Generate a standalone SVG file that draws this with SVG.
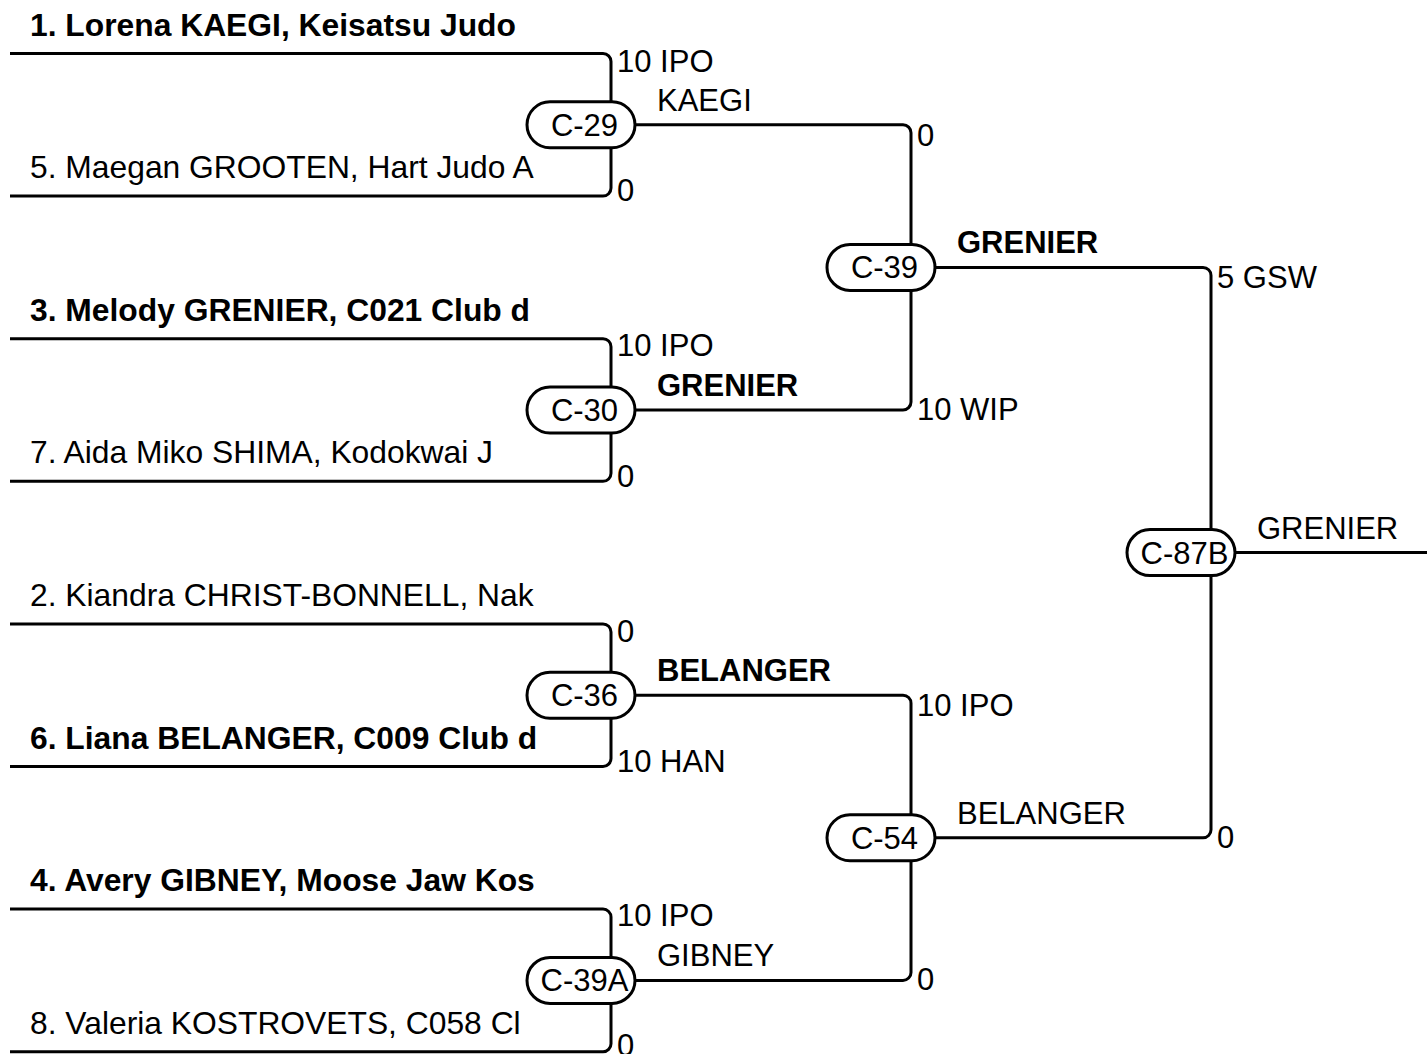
<svg xmlns="http://www.w3.org/2000/svg" width="1427" height="1054" viewBox="0 0 1427 1054">
<style>
text{font-family:"Liberation Sans",Arial,sans-serif;font-size:31px;fill:#000}
.b{font-weight:bold}
.nm{font-size:31.8px}
.nd{text-anchor:middle}
.c{fill:none;stroke:#000;stroke-width:3}
.pill{fill:#fff;stroke:#000;stroke-width:3}
</style>
<g id="connectors">
<path class="c" d="M10,53.5H603A8,8 0 0 1 611,61.5V101.8"/>
<path class="c" d="M10,196.1H603A8,8 0 0 0 611,188.1V147.8"/>
<path class="c" d="M10,338.7H603A8,8 0 0 1 611,346.7V387"/>
<path class="c" d="M10,481.3H603A8,8 0 0 0 611,473.3V433"/>
<path class="c" d="M10,623.9H603A8,8 0 0 1 611,631.9V672.2"/>
<path class="c" d="M10,766.5H603A8,8 0 0 0 611,758.5V718.2"/>
<path class="c" d="M10,909.1H603A8,8 0 0 1 611,917.1V957.4"/>
<path class="c" d="M10,1051.7H603A8,8 0 0 0 611,1043.7V1003.4"/>
<path class="c" d="M635,124.8H903A8,8 0 0 1 911,132.8V244.4"/>
<path class="c" d="M635,410H903A8,8 0 0 0 911,402V290.4"/>
<path class="c" d="M635,695.2H903A8,8 0 0 1 911,703.2V814.8"/>
<path class="c" d="M635,980.4H903A8,8 0 0 0 911,972.4V860.8"/>
<path class="c" d="M935,267.4H1203A8,8 0 0 1 1211,275.4V529.6"/>
<path class="c" d="M935,837.8H1203A8,8 0 0 0 1211,829.8V575.6"/>
<path class="c" d="M1235,552.6H1427"/>
</g>
<g id="entrants">
<text class="b nm" x="30" y="35.5">1. Lorena KAEGI, Keisatsu Judo</text>
<text class="nm" x="30" y="178">5. Maegan GROOTEN, Hart Judo A</text>
<text class="b nm" x="30" y="320.7">3. Melody GRENIER, C021 Club d</text>
<text class="nm" x="30" y="463.3">7. Aida Miko SHIMA, Kodokwai J</text>
<text class="nm" x="30" y="606">2. Kiandra CHRIST-BONNELL, Nak</text>
<text class="b nm" x="30" y="748.5">6. Liana BELANGER, C009 Club d</text>
<text class="b nm" x="30" y="891">4. Avery GIBNEY, Moose Jaw Kos</text>
<text class="nm" x="30" y="1033.7">8. Valeria KOSTROVETS, C058 Cl</text>
</g>
<g id="scores">
<text x="617" y="72">10 IPO</text>
<text x="617" y="201">0</text>
<text x="617" y="356">10 IPO</text>
<text x="617" y="486.5">0</text>
<text x="617" y="642">0</text>
<text x="617" y="771.5">10 HAN</text>
<text x="617" y="926">10 IPO</text>
<text x="617" y="1056">0</text>
<text x="917" y="146">0</text>
<text x="917" y="420">10 WIP</text>
<text x="917" y="716">10 IPO</text>
<text x="917" y="990">0</text>
<text x="1217" y="288.4">5 GSW</text>
<text x="1217" y="848">0</text>
</g>
<g id="winners">
<text x="657" y="110.8">KAEGI</text>
<text class="b" x="657" y="396">GRENIER</text>
<text class="b" x="657" y="681">BELANGER</text>
<text x="657" y="966">GIBNEY</text>
<text class="b" x="957" y="253.4">GRENIER</text>
<text x="957" y="824">BELANGER</text>
<text x="1257" y="538.6">GRENIER</text>
</g>
<g id="node-C-29"><rect class="pill" x="527" y="101.8" width="108" height="46" rx="23"/><text class="nd" x="584.5" y="135.8">C-29</text></g>
<g id="node-C-30"><rect class="pill" x="527" y="387" width="108" height="46" rx="23"/><text class="nd" x="584.5" y="421">C-30</text></g>
<g id="node-C-36"><rect class="pill" x="527" y="672.2" width="108" height="46" rx="23"/><text class="nd" x="584.5" y="706.2">C-36</text></g>
<g id="node-C-39A"><rect class="pill" x="527" y="957.4" width="108" height="46" rx="23"/><text class="nd" x="584.5" y="991.4">C-39A</text></g>
<g id="node-C-39"><rect class="pill" x="827" y="244.4" width="108" height="46" rx="23"/><text class="nd" x="884.5" y="278.4">C-39</text></g>
<g id="node-C-54"><rect class="pill" x="827" y="814.8" width="108" height="46" rx="23"/><text class="nd" x="884.5" y="848.8">C-54</text></g>
<g id="node-C-87B"><rect class="pill" x="1127" y="529.6" width="108" height="46" rx="23"/><text class="nd" x="1184.5" y="563.6">C-87B</text></g>
</svg>
